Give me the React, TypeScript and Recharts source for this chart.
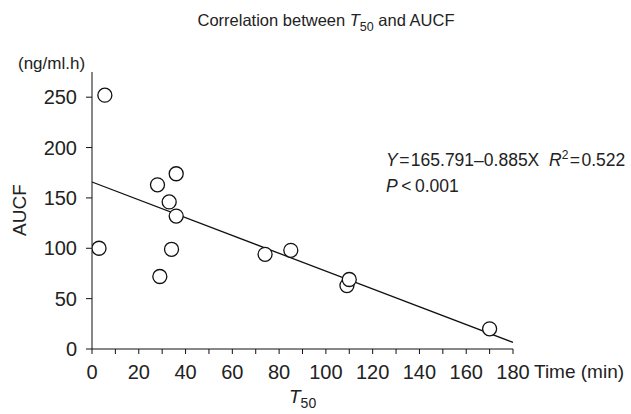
import { ScatterChart, Scatter, XAxis, YAxis, ReferenceLine } from 'recharts';

const t50 = [3, 5.5, 28, 29, 33, 34, 36, 36, 74, 85, 109, 110, 170];
const aucf = [100, 252, 163, 72, 146, 99, 174, 132, 94, 98, 63, 69, 20];
const xTicks = [0, 10, 20, 30, 40, 50, 60, 70, 80, 90, 100, 110, 120, 130, 140, 150, 160, 170, 180];
const yTicks = [0, 50, 100, 150, 200, 250];

// regression from the figure
const intercept = 165.791;
const slope = -0.885;

const points = t50.map((x, i) => ({ x, y: aucf[i] }));

const FONT = '"Liberation Sans", Arial, sans-serif';

const OpenCircle = (props: any) => (
  <circle cx={props.cx} cy={props.cy} r={7} fill="#fff" stroke="#111" strokeWidth={1.3} />
);

export default function App() {
  return (
    <div style={{ position: 'absolute', left: 0, top: 0, width: 631, height: 414, fontFamily: FONT, background: '#fff' }}>
      <ScatterChart width={631} height={414} margin={{ top: 72, right: 118, bottom: 35, left: 0 }}>
        <XAxis
          type="number"
          dataKey="x"
          domain={[0, 180]}
          ticks={xTicks}
          interval={0}
          tickFormatter={(v: number) => (v % 20 === 0 ? String(v) : '')}
          height={30}
          tickSize={5}
          tickMargin={11}
          stroke="#111"
          tick={{ fill: '#222', fontSize: 20, fontFamily: FONT }}
          allowDataOverflow
        />
        <YAxis
          type="number"
          dataKey="y"
          domain={[0, 275]}
          ticks={yTicks}
          interval={0}
          width={92}
          tickSize={6}
          tickMargin={9}
          stroke="#111"
          tick={{ fill: '#222', fontSize: 20, fontFamily: FONT }}
          allowDataOverflow
        />
        <ReferenceLine
          segment={[
            { x: 0, y: intercept },
            { x: 180, y: intercept + slope * 180 },
          ]}
          stroke="#111"
          strokeWidth={1.3}
          ifOverflow="visible"
        />
        <Scatter data={points} shape={OpenCircle} isAnimationActive={false} />
      </ScatterChart>
      <svg width={631} height={414} style={{ position: 'absolute', left: 0, top: 0, pointerEvents: 'none' }} fontFamily={FONT} fill="#222">
        <text x={326} y={26} fontSize={16.5} textAnchor="middle">
          Correlation between <tspan fontStyle="italic">T</tspan>
          <tspan fontSize={12.5} dy={5}>50</tspan>
          <tspan dy={-5}> and AUCF</tspan>
        </text>
        <text x={18} y={69} fontSize={17}>(ng/ml.h)</text>
        <text x={26} y={210} fontSize={19} textAnchor="middle" transform="rotate(-90 26 210)">AUCF</text>
        <text x={534} y={378} fontSize={19}>Time (min)</text>
        <text x={289} y={403} fontSize={19}>
          <tspan fontStyle="italic">T</tspan>
          <tspan fontSize={14} dy={5}>50</tspan>
        </text>
        <text x={386} y={166} fontSize={17.5}>
          <tspan fontStyle="italic">Y</tspan>
          <tspan>{`\u200a=\u200a${intercept}\u2013${Math.abs(slope)}X\u00a0\u00a0`}</tspan>
          <tspan fontStyle="italic">R</tspan>
          <tspan fontSize={12} dy={-7}>2</tspan>
          <tspan dy={7}>{'\u200a=\u200a0.522'}</tspan>
        </text>
        <text x={386} y={192} fontSize={17.5}>
          <tspan fontStyle="italic">P</tspan>
          <tspan>{'\u2009<\u20090.001'}</tspan>
        </text>
      </svg>
    </div>
  );
}
